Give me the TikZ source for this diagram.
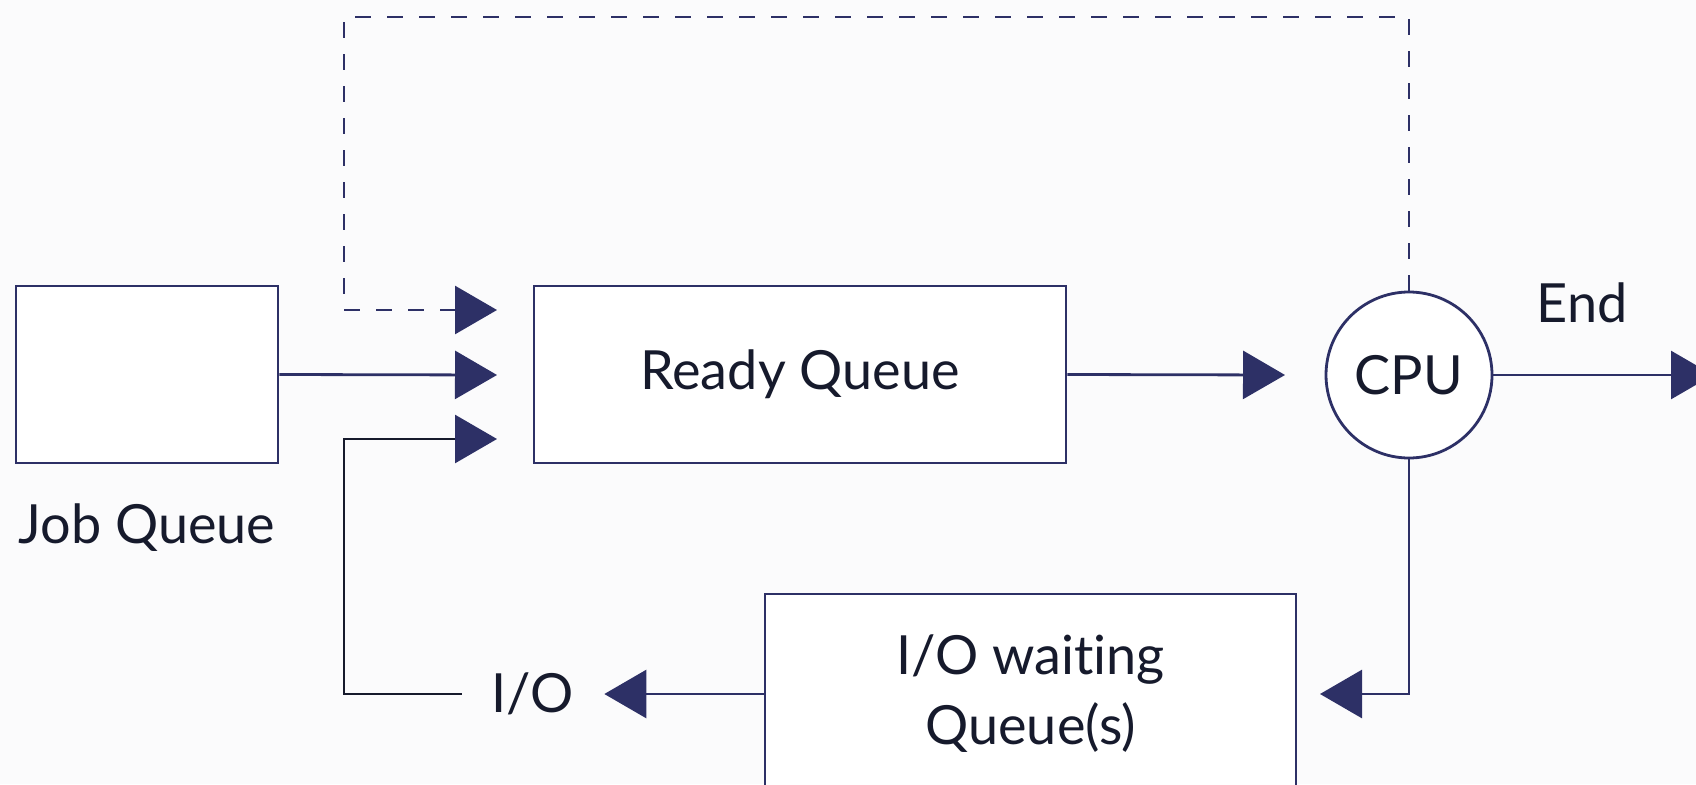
\documentclass[tikz,border=0pt]{standalone}
\usepackage{fontspec}
\setmainfont{Lato}[Ligatures=NoCommon]
\usetikzlibrary{arrows.meta}
\definecolor{ink}{RGB}{45,48,102}
\definecolor{txt}{RGB}{22,26,44}
\definecolor{bg}{RGB}{251,251,252}
\begin{document}
\begin{tikzpicture}[x=1pt,y=-1pt,
  box/.style={draw=ink, line width=2.8pt, fill=white, inner sep=0pt,
    font=\fontsize{54}{70}\selectfont, text=txt},
  lbl/.style={inner sep=0pt, font=\fontsize{54}{70}\selectfont, text=txt},
  conn/.style={draw=ink, line width=2.8pt,
    -{Triangle[length=42pt,width=48pt,color=ink]}},
  ret/.style={conn, dash pattern=on 16pt off 16pt}]
\fill[bg] (0,0) rectangle (1696,784);
\useasboundingbox (0,0) rectangle (1696,784);
\clip (0,0) rectangle (1696,784);

% queues and processor
\node[box, minimum width=262pt, minimum height=177pt] (job) at (147,374.5) {};
\node[lbl] (joblbl) at (147,528) {Job Queue};
\node[box, minimum width=532pt, minimum height=177pt] (ready) at (800,374.5) {Ready Queue};
\node[box, circle, minimum size=166pt] (cpu) at (1409,375) {CPU};
\node[box, minimum width=531pt, minimum height=200pt, align=center] (iowait) at (1030.5,694) {I/O waiting\\Queue(s)};
\node[lbl, inner xsep=30pt] (io) at (533,694) {I/O};
\node[lbl] (endlbl) at (1582,303) {End};

% arrow targets
\coordinate (in1) at (497,310);
\coordinate (in2) at (497,375);
\coordinate (in3) at (497,439);
\coordinate (cpuin) at (1285,375);
\coordinate (exit) at (1713,375);
\coordinate (qin) at (1320,694);
\coordinate (topL) at (344,17);
\coordinate (ioturn) at (344,694);

% connectors
\draw[conn] (job.east) -- (in2);
\draw[conn] (ready.east) -- (cpuin);
\draw[conn] (cpu.east) -- (exit);
\draw[conn] (cpu.south) |- (qin);
\draw[conn] (iowait.west) -- (io.east);
\draw[conn, draw=txt] (io.west) -- (ioturn) |- (in3);
\draw[ret] (cpu.north) |- (topL) |- (in1);
\end{tikzpicture}
\end{document}
